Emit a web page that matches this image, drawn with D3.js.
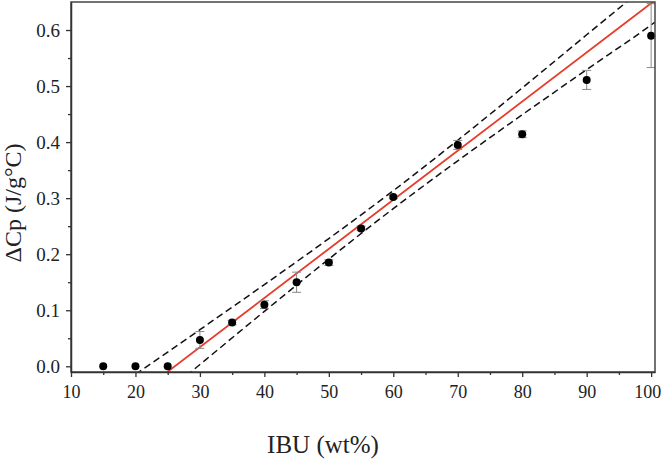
<!DOCTYPE html>
<html>
<head>
<meta charset="utf-8">
<script src="https://cdn.jsdelivr.net/npm/d3@7"></script>
<style>
  html, body { margin: 0; padding: 0; background: #fff; }
  svg { display: block; }
  text { font-family: "Liberation Serif", "Times New Roman", serif; fill: #222; }
</style>
</head>
<body>
<svg id="chart" width="663" height="459"></svg>
<script>
// ---- data ----
const ibu      = [15, 20, 25, 30, 35, 40, 45, 50, 55, 60, 70, 80, 90, 100];
const deltaCp  = [0, 0, 0, 0.047, 0.078, 0.110, 0.150, 0.185, 0.246, 0.302, 0.395, 0.414, 0.511, 0.590];
const errCp    = [0, 0, 0, 0.015, 0.004, 0.007, 0.018, 0.005, 0.004, 0.003, 0.008, 0.006, 0.017, 0.057];

// linear fit (red) endpoints
const fitX = [24.9, 100.6];
const fitY = [-0.0105, 0.653];

// confidence band (dashed)
const bandX     = [20, 25, 30, 40, 50, 60, 70, 80, 90, 100, 100.6];
const bandUpper = [-0.0145, 0.0253, 0.0653, 0.1458, 0.2279, 0.3133, 0.4033, 0.4966, 0.5915, 0.687, 0.693];
const bandLower = [-0.092, -0.0446, 0.0031, 0.098, 0.1913, 0.2813, 0.3667, 0.4488, 0.5293, 0.609, 0.614];

const xTicks = [10, 20, 30, 40, 50, 60, 70, 80, 90, 100];
const yTicks = [0.0, 0.1, 0.2, 0.3, 0.4, 0.5, 0.6];
const xMinor = [15, 25, 35, 45, 55, 65, 75, 85, 95];
const yMinor = [0.05, 0.15, 0.25, 0.35, 0.45, 0.55];

const xTitle = "IBU (wt%)";
const yTitle = "ΔCp (J/g°C)";

// ---- layout ----
const W = 663, H = 459;
const m = { left: 71, top: 2, right: 8, bottom: 87 };
const iw = W - m.left - m.right, ih = H - m.top - m.bottom;

const svg = d3.select("#chart");
const g = svg.append("g").attr("transform", `translate(${m.left},${m.top})`);

const x = d3.scaleLinear().domain([10, 100.6]).range([0, iw]);
const y = d3.scaleLinear().domain([-0.0102, 0.65]).range([ih, 0]);

svg.append("defs").append("clipPath").attr("id", "clip")
  .append("rect").attr("width", iw).attr("height", ih);

const plot = g.append("g").attr("clip-path", "url(#clip)");

// dashed confidence bands
const bandLine = (vals) => d3.line()
  .x((d, i) => x(bandX[i])).y((d) => y(d))
  .curve(d3.curveMonotoneX)(vals);
[bandUpper, bandLower].forEach(vals => {
  plot.append("path").attr("d", bandLine(vals))
    .attr("fill", "none").attr("stroke", "#111").attr("stroke-width", 1.5)
    .attr("stroke-dasharray", "7,4");
});

// fit line
plot.append("path")
  .attr("d", d3.line().x((d, i) => x(fitX[i])).y(d => y(d))(fitY))
  .attr("fill", "none").attr("stroke", "#e63c2a").attr("stroke-width", 1.8);

// error bars
const pts = ibu.map((v, i) => ({ x: v, y: deltaCp[i], e: errCp[i] }));
const eb = plot.append("g").attr("stroke", "#888").attr("stroke-width", 1);
pts.filter(d => d.e > 0).forEach(d => {
  const cx = x(d.x), y1 = y(d.y + d.e), y2 = y(d.y - d.e);
  eb.append("line").attr("x1", cx).attr("x2", cx).attr("y1", y1).attr("y2", y2);
  eb.append("line").attr("x1", cx - 4.5).attr("x2", cx + 4.5).attr("y1", y1).attr("y2", y1);
  eb.append("line").attr("x1", cx - 4.5).attr("x2", cx + 4.5).attr("y1", y2).attr("y2", y2);
});

// markers
g.append("g").selectAll("circle").data(pts).join("circle")
  .attr("cx", d => x(d.x)).attr("cy", d => y(d.y)).attr("r", 4)
  .attr("fill", "#000");

// frame (top/right)
g.append("rect").attr("width", iw).attr("height", ih)
  .attr("fill", "none").attr("stroke", "#444").attr("stroke-width", 1.5);

// axes
const xAxis = g.append("g").attr("transform", `translate(0,${ih})`)
  .call(d3.axisBottom(x).tickValues(xTicks).tickFormat(d3.format("d")).tickSize(5).tickSizeOuter(0));
g.append("g").attr("transform", `translate(0,${ih})`)
  .call(d3.axisBottom(x).tickValues(xMinor).tickFormat("").tickSize(3).tickSizeOuter(0))
  .select(".domain").remove();
const yAxis = g.append("g")
  .call(d3.axisLeft(y).tickValues(yTicks).tickFormat(d3.format(".1f")).tickSize(5).tickSizeOuter(0));
g.append("g")
  .call(d3.axisLeft(y).tickValues(yMinor).tickFormat("").tickSize(3).tickSizeOuter(0))
  .select(".domain").remove();

g.selectAll(".domain").attr("stroke", "#333").attr("stroke-width", 1.5);
g.selectAll(".tick line").attr("stroke", "#333").attr("stroke-width", 1.3);

xAxis.selectAll(".tick text")
  .attr("y", 26).attr("dy", 0)
  .attr("dx", d => d === 100 ? -4 : 0)
  .style("font-size", "18px").style("font-family", "Liberation Serif, Times New Roman, serif").attr("fill", "#222");
yAxis.selectAll(".tick text")
  .attr("x", -11).attr("dy", "0.33em")
  .style("font-size", "19px").style("font-family", "Liberation Serif, Times New Roman, serif").attr("fill", "#222");

// titles
svg.append("text").attr("x", 323).attr("y", 453)
  .attr("text-anchor", "middle").style("font-size", "25px").text(xTitle);
svg.append("text")
  .attr("transform", "translate(21,203) rotate(-90)")
  .attr("text-anchor", "middle").style("font-size", "24px").text(yTitle);
</script>
</body>
</html>
